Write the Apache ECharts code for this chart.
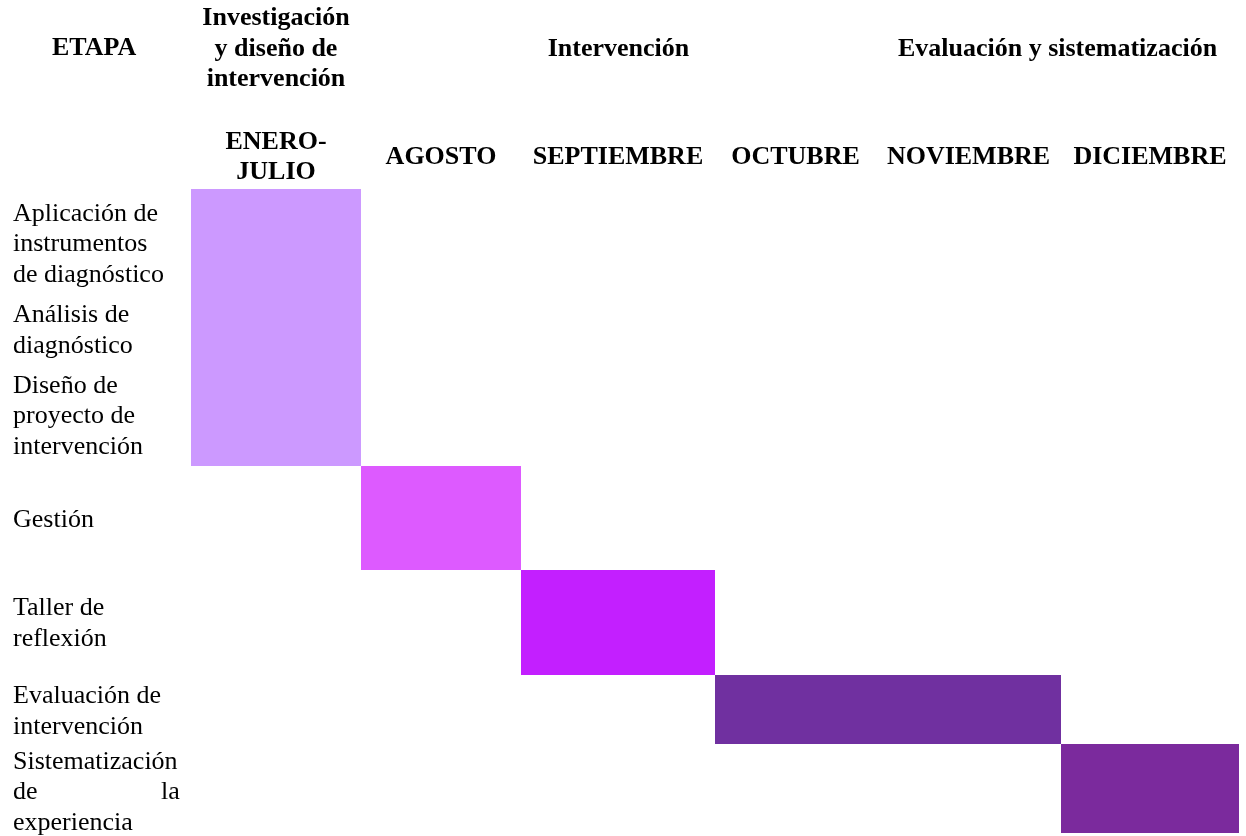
<!DOCTYPE html>
<html>
<head>
<meta charset="utf-8">
<script src="https://cdn.jsdelivr.net/npm/echarts@6/dist/echarts.min.js"></script>
<style>
  html, body { margin: 0; padding: 0; background: #fff; }
  #chart { width: 1246px; height: 836px; }
</style>
</head>
<body>
<div id="chart"></div>
<script>
// schedule data
const months = ['ENERO-\nJULIO', 'AGOSTO', 'SEPTIEMBRE', 'OCTUBRE', 'NOVIEMBRE', 'DICIEMBRE'];
const phases = ['Investigación\ny diseño de\nintervención', 'Intervención', 'Evaluación y sistematización'];
const phaseFrom = [0, 1, 4];
const phaseTo = [1, 4, 6];
const tasks = [
  'Aplicación de\ninstrumentos\nde diagnóstico',
  'Análisis de\ndiagnóstico',
  'Diseño de\nproyecto de\nintervención',
  'Gestión',
  'Taller de\nreflexión',
  'Evaluación de\nintervención',
  'Sistematización\nde                   la\nexperiencia'
];
const taskFrom = [0, 0, 0, 1, 2, 3, 5];
const taskTo = [1, 1, 1, 2, 3, 5, 6];

// layout: column widths and row heights (axis units)
const colWidths = [170, 160, 194, 161, 185, 178];
const rowHeights = [111, 65, 101, 104, 105, 69, 89];
const labelShift = [0, -2, 1, 2, 1, 2, 4];
const taskColors = ['#CC99FF', '#CC99FF', '#CC99FF', '#DD5AFF', '#C31FFF', '#7030A0', '#7B2A9D'];

const colEdge = [0];
colWidths.forEach(w => colEdge.push(colEdge[colEdge.length - 1] + w));
const rowEdge = [0];
rowHeights.forEach(h => rowEdge.push(rowEdge[rowEdge.length - 1] + h));

const FONT = '"Liberation Serif", "Times New Roman", serif';

const chart = echarts.init(document.getElementById('chart'));
chart.setOption({
  animation: false,
  grid: { left: 191, top: 189, width: colEdge[6], height: rowEdge[7] },
  xAxis: { type: 'value', min: 0, max: colEdge[6], show: false },
  yAxis: { type: 'value', min: 0, max: rowEdge[7], inverse: true, show: false },
  graphic: [{
    type: 'text', left: 52, top: 35,
    style: { text: 'ETAPA', font: 'bold 26px ' + FONT, fill: '#000' }
  }],
  series: [
    {
      type: 'custom',
      data: tasks.map((t, i) => [colEdge[taskFrom[i]], colEdge[taskTo[i]], rowEdge[i], rowEdge[i + 1], i]),
      renderItem: (params, api) => {
        const i = api.value(4);
        const p0 = api.coord([api.value(0), api.value(2)]);
        const p1 = api.coord([api.value(1), api.value(3)]);
        return {
          type: 'group',
          children: [
            {
              type: 'rect',
              shape: { x: p0[0], y: p0[1], width: p1[0] - p0[0], height: p1[1] - p0[1] },
              style: { fill: taskColors[i] }
            },
            {
              type: 'text',
              x: 13, y: (p0[1] + p1[1]) / 2 + labelShift[i],
              style: {
                text: tasks[i], font: '26px ' + FONT, lineHeight: 30.5,
                fill: '#000', align: 'left', verticalAlign: 'middle'
              }
            }
          ]
        };
      }
    },
    {
      type: 'custom',
      data: months.map((m, i) => [(colEdge[i] + colEdge[i + 1]) / 2, i]),
      renderItem: (params, api) => {
        const p = api.coord([api.value(0), 0]);
        return {
          type: 'text', x: p[0], y: 157,
          style: {
            text: months[api.value(1)], font: 'bold 26px ' + FONT, lineHeight: 30,
            fill: '#000', align: 'center', verticalAlign: 'middle'
          }
        };
      }
    },
    {
      type: 'custom',
      data: phases.map((p, i) => [(colEdge[phaseFrom[i]] + colEdge[phaseTo[i]]) / 2, i]),
      renderItem: (params, api) => {
        const p = api.coord([api.value(0), 0]);
        return {
          type: 'text', x: p[0], y: 49,
          style: {
            text: phases[api.value(1)], font: 'bold 26px ' + FONT, lineHeight: 30.5,
            fill: '#000', align: 'center', verticalAlign: 'middle'
          }
        };
      }
    }
  ]
});
</script>
</body>
</html>
